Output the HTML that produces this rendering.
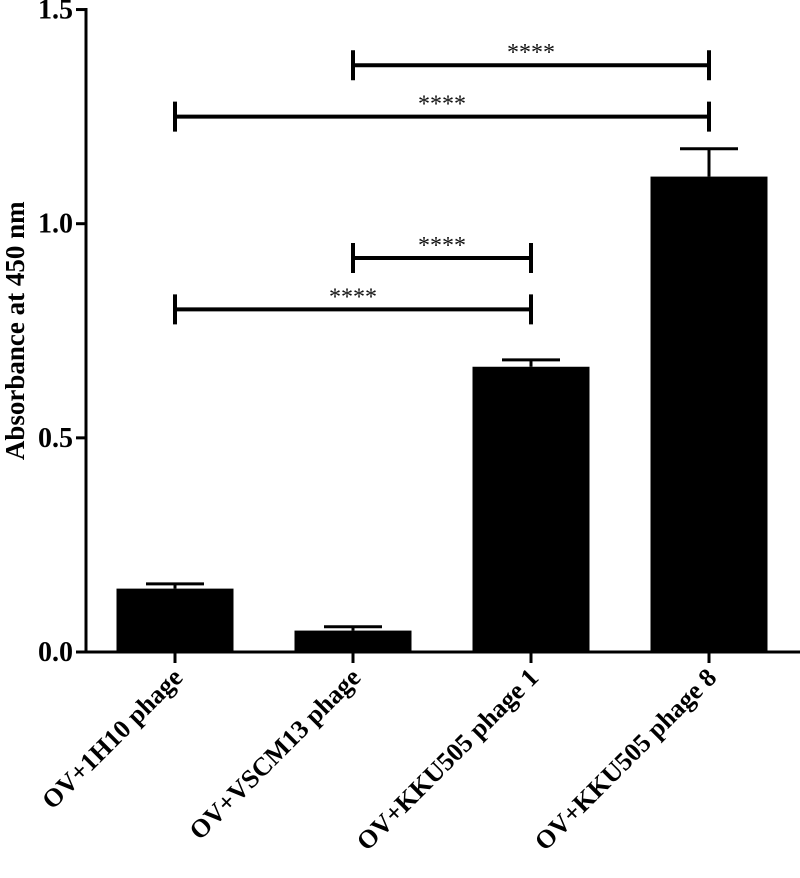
<!DOCTYPE html>
<html><head><meta charset="utf-8"><style>
html,body{margin:0;padding:0;background:#fff;}
svg{display:block;font-family:"Liberation Serif",serif;}
</style></head><body>
<svg id="chart" width="800" height="878" viewBox="0 0 800 878" xmlns="http://www.w3.org/2000/svg"></svg>
<script>
const categories = ["OV+1H10 phage","OV+VSCM13 phage","OV+KKU505 phage 1","OV+KKU505 phage 8"];
const means = [0.148, 0.050, 0.666, 1.110];
const errors = [0.011, 0.009, 0.016, 0.065];
const yTicks = [0.0, 0.5, 1.0, 1.5];
const yTickLabels = ["0.0","0.5","1.0","1.5"];
const sigFrom = [1, 0, 1, 0];
const sigTo = [3, 3, 2, 2];
const sigLevel = [1.37, 1.25, 0.92, 0.80];
const sigLabels = ["****","****","****","****"];

const NS="http://www.w3.org/2000/svg";
const svg=document.getElementById('chart');
const y0=652, pxPerUnit=428.3;
const y=v=>y0-v*pxPerUnit;
const x=i=>175+i*178;
const barW=117;
function mk(t,a){const e=document.createElementNS(NS,t);for(const k in a)e.setAttribute(k,a[k]);svg.appendChild(e);return e;}

let ax=mk('line',{x1:86,y1:8,x2:86,y2:y0+1.5,stroke:'#000','stroke-width':3});


let xa=mk('line',{x1:76,y1:y0,x2:800,y2:y0,stroke:'#000','stroke-width':3});



yTicks.forEach((v,i)=>{
  let t=mk('line',{x1:76,y1:y(v),x2:86,y2:y(v),stroke:'#000','stroke-width':3});
  
  
  let l=mk('text',{x:73,y:y(v)+9,'text-anchor':'end','font-size':28,'font-weight':'bold'});
  l.textContent=yTickLabels[i];
  
  
});

let yt=mk('text',{x:0,y:0,'text-anchor':'middle','font-size':27,'font-weight':'bold',transform:`translate(24,${y(0.75)}) rotate(-90)`});
yt.textContent="Absorbance at 450 nm";



categories.forEach((c,i)=>{
  const cx=x(i);
  let r=mk('rect',{x:cx-barW/2,y:y(means[i]),width:barW,height:y0-y(means[i]),fill:'#000'});
  
  
  let e=mk('line',{x1:cx,y1:y(means[i]),x2:cx,y2:y(means[i]+errors[i]),stroke:'#000','stroke-width':3});
  
  
  let cap=mk('line',{x1:cx-29,y1:y(means[i]+errors[i]),x2:cx+29,y2:y(means[i]+errors[i]),stroke:'#000','stroke-width':3});
  
  
  let tk=mk('line',{x1:cx,y1:y0,x2:cx,y2:y0+11,stroke:'#000','stroke-width':3});
  
  
  let l=mk('text',{x:0,y:0,'text-anchor':'end','font-size':26,'font-weight':'bold',transform:`translate(${cx+9},${y0+27}) rotate(-45)`});
  l.textContent=c;
  
  
});

sigLevel.forEach((lv,i)=>{
  const x1=x(sigFrom[i]), x2=x(sigTo[i]), yy=y(lv);
  let g=mk('path',{d:`M${x1},${yy-15}V${yy+15}M${x1},${yy}H${x2}M${x2},${yy-15}V${yy+15}`,stroke:'#000','stroke-width':4,fill:'none'});
  
  
  let s=mk('text',{x:(x1+x2)/2,y:yy-5,'text-anchor':'middle','font-size':24,fill:'#111'});
  s.textContent=sigLabels[i];
  
  
});
</script>
</body></html>
